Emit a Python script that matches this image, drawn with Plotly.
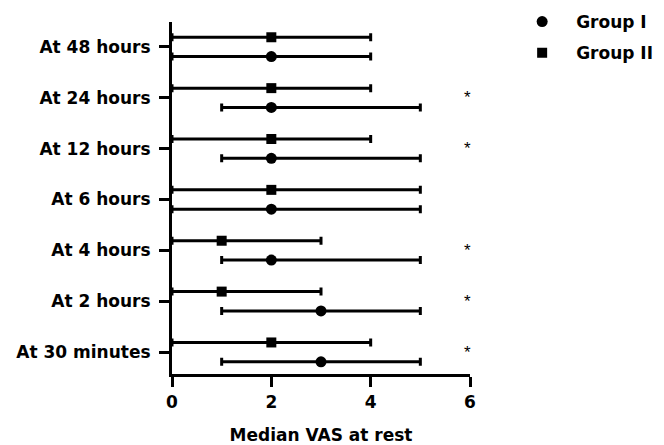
import plotly.graph_objects as go

categories = ["At 30 minutes", "At 2 hours", "At 4 hours", "At 6 hours",
              "At 12 hours", "At 24 hours", "At 48 hours"]
g1_median = [3, 3, 2, 2, 2, 2, 2]
g1_min = [1, 1, 1, 0, 1, 1, 0]
g1_max = [5, 5, 5, 5, 5, 5, 4]
g2_median = [2, 1, 1, 2, 2, 2, 2]
g2_min = [0, 0, 0, 0, 0, 0, 0]
g2_max = [4, 3, 3, 5, 4, 4, 4]
significant = [True, True, True, False, True, True, False]
x_ticks = [0, 2, 4, 6]

pos = list(range(len(categories)))
off = 0.19
FONT = "DejaVu Sans, Liberation Sans, Arial, sans-serif"

fig = go.Figure()
fig.add_trace(go.Scatter(
    x=g1_median, y=[p - off for p in pos], mode="markers", name="Group I",
    legendgroup="g1",
    marker=dict(symbol="circle", size=11, color="black"),
    error_x=dict(type="data", symmetric=False,
                 array=[mx - m for mx, m in zip(g1_max, g1_median)],
                 arrayminus=[m - mn for m, mn in zip(g1_median, g1_min)],
                 color="black", thickness=3, width=4),
    cliponaxis=False,
))
fig.add_trace(go.Scatter(
    x=g2_median, y=[p + off for p in pos], mode="markers", name="Group II",
    legendgroup="g2",
    marker=dict(symbol="square", size=10, color="black"),
    error_x=dict(type="data", symmetric=False,
                 array=[mx - m for mx, m in zip(g2_max, g2_median)],
                 arrayminus=[m - mn for m, mn in zip(g2_median, g2_min)],
                 color="black", thickness=3, width=4),
    cliponaxis=False,
))

for p, s in zip(pos, significant):
    if s:
        fig.add_annotation(x=5.94, y=p, text="*", showarrow=False,
                           yshift=0, font=dict(family="Liberation Sans, Arial", size=17, color="black"))

fig.update_layout(
    width=656, height=437,
    margin=dict(l=164, r=194, t=14, b=71, autoexpand=False),
    plot_bgcolor="white", paper_bgcolor="white",
    font=dict(family=FONT, color="black"),
    showlegend=True,
    legend=dict(x=1.128, y=1.051, xanchor="left", yanchor="top",
                traceorder="grouped", tracegroupgap=6, itemwidth=58,
                font=dict(family=FONT, size=17, color="black", weight="bold"),
                bgcolor="rgba(0,0,0,0)"),
    xaxis=dict(range=[0, 6], tickvals=x_ticks, showgrid=False, zeroline=False,
               showline=True, linecolor="black", linewidth=3,
               ticks="outside", ticklen=10, tickwidth=3, tickcolor="black",
               ticklabelstandoff=1,
               tickfont=dict(family=FONT, size=17, color="black", weight="bold"),
               title=dict(text="Median VAS at rest", standoff=30,
                          font=dict(family=FONT, size=17, color="black", weight="bold"))),
    yaxis=dict(range=[-0.43, 6.49], tickvals=pos, ticktext=categories,
               showgrid=False, zeroline=False,
               showline=True, linecolor="black", linewidth=3,
               ticks="outside", ticklen=10, tickwidth=3, tickcolor="black",
               ticklabelstandoff=5,
               tickfont=dict(family=FONT, size=17, color="black", weight="bold")),
)

fig.write_html("out.html")
